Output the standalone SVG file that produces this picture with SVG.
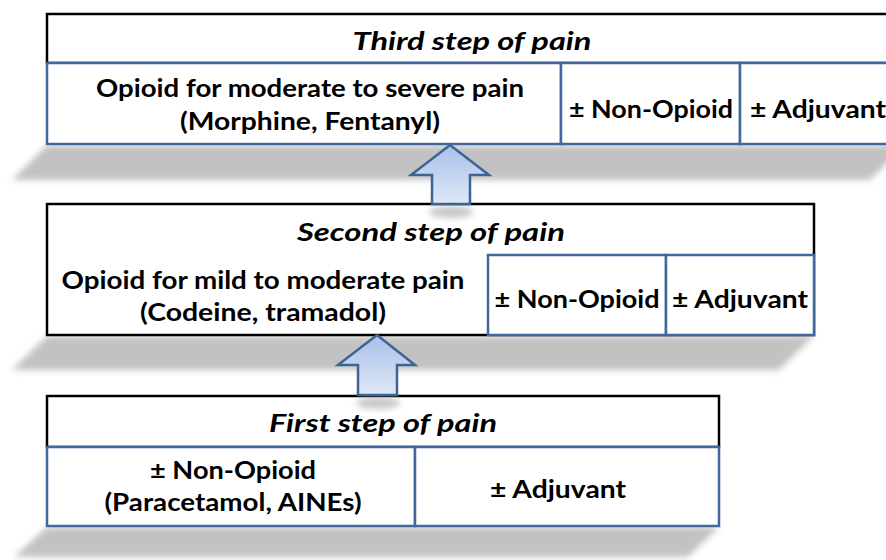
<svg xmlns="http://www.w3.org/2000/svg" width="886" height="560" viewBox="0 0 886 560">
  <style>
    .bk { fill: #ffffff; stroke: #000000; stroke-width: 2.5; }
    .bl { fill: #ffffff; stroke: #41679b; stroke-width: 2.5; }
    .sh { fill: #c2c2c2; filter: url(#blur); }
    .t { font-family: Lato, "Liberation Sans", "DejaVu Sans", sans-serif; font-weight: bold; font-size: 25.5px; fill: #000000; text-anchor: middle; }
    .ti { font-family: Lato, "Liberation Sans", "DejaVu Sans", sans-serif; font-style: italic; font-weight: bold; font-size: 25px; fill: #000000; text-anchor: middle; }
    .arr { fill: url(#arrowFill); stroke: #3c6494; stroke-width: 2.5; stroke-linejoin: miter; }
    .ash { fill: #9a9a9a; opacity: 0.55; filter: url(#blur); }
  </style>
  <defs>
    <filter id="blur" x="-10%" y="-50%" width="120%" height="200%">
      <feGaussianBlur stdDeviation="3"/>
    </filter>
    <linearGradient id="arrowFill" x1="0" y1="0" x2="0" y2="1">
      <stop offset="0" stop-color="#a9c0e8"/>
      <stop offset="1" stop-color="#dfe8f6"/>
    </linearGradient>
  </defs>
  <rect width="886" height="560" fill="#ffffff"/>

  <g id="step3">
    <polygon class="sh" points="47,145 905,145 870,180 12,180"/>
    <rect class="bk" x="47" y="14" width="860" height="49"/>
    <rect class="bl" x="47" y="63" width="514" height="81"/>
    <rect class="bl" x="561" y="63" width="179" height="81"/>
    <rect class="bl" x="740" y="63" width="170" height="81"/>
    <text class="ti" x="472" y="50" textLength="239" lengthAdjust="spacingAndGlyphs">Third step of pain</text>
    <text class="t" x="310" y="97" textLength="428" lengthAdjust="spacingAndGlyphs">Opioid for moderate to severe pain</text>
    <text class="t" x="310" y="130" textLength="260" lengthAdjust="spacingAndGlyphs">(Morphine, Fentanyl)</text>
    <text class="t" x="651" y="118" textLength="164" lengthAdjust="spacingAndGlyphs">± Non-Opioid</text>
    <text class="t" x="818" y="118" textLength="136" lengthAdjust="spacingAndGlyphs">± Adjuvant</text>
  </g>

  <g id="step2">
    <polygon class="sh" points="47,336 814,336 779,370 12,370"/>
    <rect class="bk" x="47" y="204" width="767" height="131"/>
    <rect class="bl" x="488" y="255" width="178" height="80"/>
    <rect class="bl" x="666" y="255" width="148" height="80"/>
    <text class="ti" x="431" y="241" textLength="268" lengthAdjust="spacingAndGlyphs">Second step of pain</text>
    <text class="t" x="263" y="289" textLength="403" lengthAdjust="spacingAndGlyphs">Opioid for mild to moderate pain</text>
    <text class="t" x="263" y="321" textLength="246" lengthAdjust="spacingAndGlyphs">(Codeine, tramadol)</text>
    <text class="t" x="577" y="308" textLength="165" lengthAdjust="spacingAndGlyphs">± Non-Opioid</text>
    <text class="t" x="740" y="308" textLength="136" lengthAdjust="spacingAndGlyphs">± Adjuvant</text>
  </g>

  <g id="step1">
    <polygon class="sh" points="47,527 719,527 688,557 14,557"/>
    <rect class="bk" x="47" y="396" width="672" height="51"/>
    <rect class="bl" x="47" y="447" width="368" height="79"/>
    <rect class="bl" x="415" y="447" width="304" height="79"/>
    <text class="ti" x="383" y="432" textLength="228" lengthAdjust="spacingAndGlyphs">First step of pain</text>
    <text class="t" x="233" y="479" textLength="166" lengthAdjust="spacingAndGlyphs">± Non-Opioid</text>
    <text class="t" x="233" y="511" textLength="257" lengthAdjust="spacingAndGlyphs">(Paracetamol, AINEs)</text>
    <text class="t" x="558" y="498" textLength="136" lengthAdjust="spacingAndGlyphs">± Adjuvant</text>
  </g>

  <g id="connectors">
    <ellipse class="ash" cx="451" cy="212" rx="22" ry="6"/>
    <ellipse class="ash" cx="378" cy="403" rx="22" ry="6"/>
    <path class="arr" d="M450,145 L489,175 L470,175 L470,204 L432,204 L432,175 L411,175 Z"/>
    <path class="arr" d="M377,335 L415,365 L397,365 L397,395 L358,395 L358,365 L338,365 Z"/>
  </g>
</svg>
